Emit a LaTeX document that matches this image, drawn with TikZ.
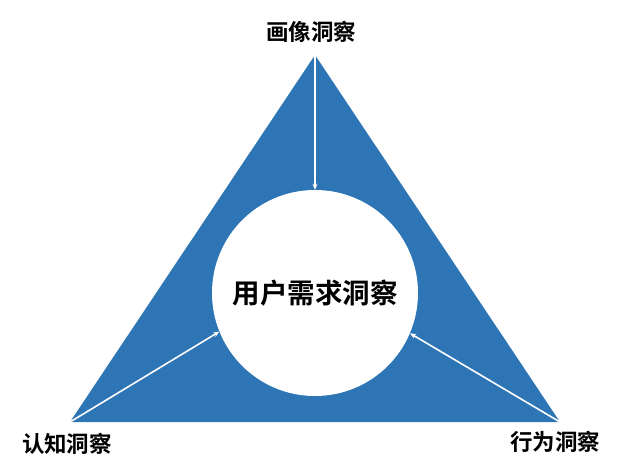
\documentclass[tikz,border=0pt]{standalone}
\usepackage{fontspec}
\newfontfamily\cjk{Noto Sans CJK SC}[BoldFont={Noto Sans CJK SC Bold}]
\usetikzlibrary{arrows.meta}
\definecolor{triblue}{RGB}{46,117,182}
\tikzset{
    label/.style={font=\cjk\bfseries\fontsize{22.5}{22.5}\selectfont, text=black},
    feed/.style={draw=white, line width=1.6pt, -{Stealth[length=6pt,width=5pt]}}
}
\begin{document}
\begin{tikzpicture}[x=1pt,y=-1pt]
            \useasboundingbox (0,0) rectangle (627,472);
            % corners of the triangle
            \coordinate (top) at (315,55);
            \coordinate (left) at (70,422);
            \coordinate (right) at (560,422);
            \fill[triblue] (top) -- (left) -- (right) -- cycle;
            \node[circle, fill=white, inner sep=0pt, minimum size=206pt,
                  font=\cjk\bfseries\fontsize{27.5}{27.5}\selectfont] (core) at (315,293) {用户需求洞察};
            \node[label] (portrait) at (311,32) {画像洞察};
            \node[label] (cognition) at (67,444) {认知洞察};
            \node[label] (behavior) at (555,442) {行为洞察};
            \draw[feed] (top) -- (core.north);
            \draw[feed] (left) -- (core.202);
            \draw[feed] (right) -- (core.337);
        \end{tikzpicture}
\end{document}
